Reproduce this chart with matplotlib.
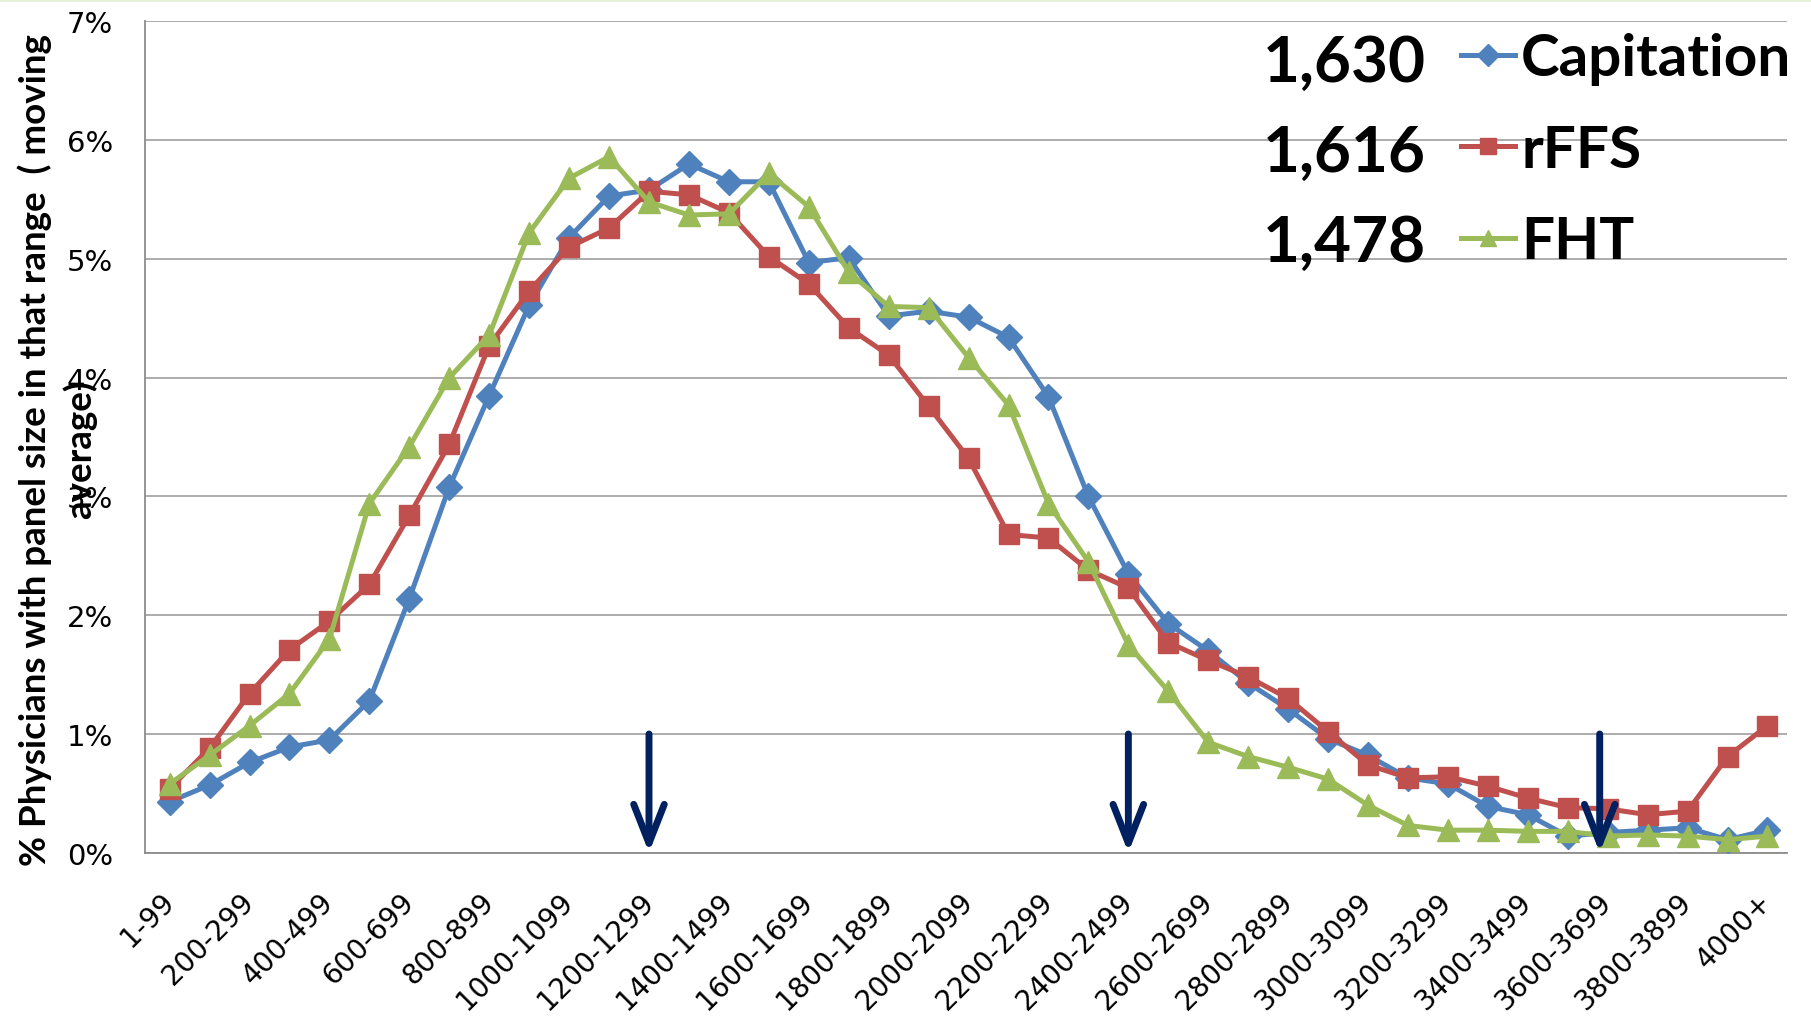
import numpy as np
import matplotlib.pyplot as plt
from matplotlib.lines import Line2D

# Panel size ranges (x-axis categories)
categories = ["1-99", "100-199", "200-299", "300-399", "400-499", "500-599",
              "600-699", "700-799", "800-899", "900-999", "1000-1099", "1100-1199",
              "1200-1299", "1300-1399", "1400-1499", "1500-1599", "1600-1699",
              "1700-1799", "1800-1899", "1900-1999", "2000-2099", "2100-2199",
              "2200-2299", "2300-2399", "2400-2499", "2500-2599", "2600-2699",
              "2700-2799", "2800-2899", "2900-2999", "3000-3099", "3100-3199",
              "3200-3299", "3300-3399", "3400-3499", "3500-3599", "3600-3699",
              "3700-3799", "3800-3899", "3900-3999", "4000+"]

# % physicians in range (moving average)
capitation = [0.43, 0.57, 0.76, 0.89, 0.95, 1.28, 2.14, 3.08, 3.85, 4.61,
              5.18, 5.53, 5.58, 5.80, 5.65, 5.65, 4.97, 5.01, 4.52, 4.56,
              4.51, 4.34, 3.84, 3.00, 2.35, 1.93, 1.70, 1.43, 1.21, 0.96,
              0.82, 0.63, 0.58, 0.39, 0.32, 0.14, 0.17, 0.19, 0.21, 0.11,
              0.19]
rffs = [0.54, 0.88, 1.34, 1.71, 1.95, 2.26, 2.84, 3.44, 4.27, 4.73,
        5.10, 5.26, 5.57, 5.54, 5.39, 5.02, 4.79, 4.42, 4.19, 3.76,
        3.32, 2.68, 2.65, 2.38, 2.23, 1.77, 1.62, 1.48, 1.30, 1.02,
        0.74, 0.63, 0.64, 0.56, 0.46, 0.38, 0.37, 0.32, 0.35, 0.81,
        1.07]
fht = [0.58, 0.82, 1.07, 1.34, 1.80, 2.94, 3.42, 4.00, 4.36, 5.22,
       5.68, 5.86, 5.48, 5.37, 5.38, 5.72, 5.44, 4.89, 4.60, 4.59,
       4.17, 3.77, 2.94, 2.45, 1.75, 1.36, 0.93, 0.81, 0.72, 0.62,
       0.40, 0.23, 0.19, 0.19, 0.18, 0.18, 0.14, 0.15, 0.14, 0.11,
       0.14]

series_names = ["Capitation", "rFFS", "FHT"]
series_means = ["1,630", "1,616", "1,478"]
arrow_positions = [12, 24, 35.8]

blue = "#4F81BD"
red = "#C0504D"
green = "#9BBB59"
navy = "#002060"

fig = plt.figure(figsize=(18.11, 10.20), dpi=100)
ax = fig.add_axes([0.080, 0.163, 0.907, 0.815])

x = np.arange(len(categories))
ax.plot(x, capitation, color=blue, lw=3.6, marker="D", ms=13, label=series_names[0], zorder=3)
ax.plot(x, rffs, color=red, lw=3.6, marker="s", ms=14, label=series_names[1], zorder=4)
ax.plot(x, fht, color=green, lw=3.6, marker="^", ms=16, label=series_names[2], zorder=5)

# arrows marking the ranges
for ap in arrow_positions:
    ax.annotate("", xy=(ap, 0.0), xytext=(ap, 1.0),
                arrowprops=dict(arrowstyle="->,head_length=2.8,head_width=1.1",
                                color=navy, lw=5, shrinkA=0, shrinkB=0),
                zorder=6)

ax.set_ylim(0, 7)
ax.set_xlim(-0.62, 40.5)
ax.set_yticks(np.arange(0, 8))
ax.set_yticklabels([f"{v}%" for v in range(8)], fontsize=21, family="DejaVu Sans")
ax.set_xticks(x[::2])
ax.set_xticklabels(categories[::2], rotation=45, ha="right", va="center",
                   rotation_mode="anchor", fontsize=20, family="DejaVu Sans")
ax.tick_params(axis="both", length=0)
ax.tick_params(axis="y", pad=23)
ax.tick_params(axis="x", pad=32)

ax.grid(axis="y", color="#A6A6A6", lw=1.3)
ax.set_axisbelow(True)
for s in ["top", "right"]:
    ax.spines[s].set_visible(False)
for s in ["left", "bottom"]:
    ax.spines[s].set_color("#8C8C8C")
    ax.spines[s].set_linewidth(1.3)

ax.set_ylabel("% Physicians with panel size in that range  ( moving\naverage)",
              fontsize=26.5, fontweight="bold", family="Lato", linespacing=1.38,
              va="center")
ax.yaxis.set_label_coords(-0.0533, 0.486)

leg = ax.legend(loc="upper left", bbox_to_anchor=(1461 / 1811, 1 - 33 / 1020),
                bbox_transform=fig.transFigure, frameon=False, borderpad=0,
                borderaxespad=0, handlelength=0.93, handletextpad=0.1,
                labelspacing=0.66, prop=dict(family="Lato", weight="bold", size=42))
for h in leg.legend_handles:
    h.set_markersize(11)

for i, m in enumerate(series_means):
    fig.text(1426 / 1811, 1 - (63 + 90 * i) / 1020, m, ha="right", va="center",
             fontsize=46, fontweight="bold", family="Lato")

fig.add_artist(Line2D([0, 1], [0.999, 0.999], color="#E6EFD9", lw=2))

plt.savefig("out.png")
